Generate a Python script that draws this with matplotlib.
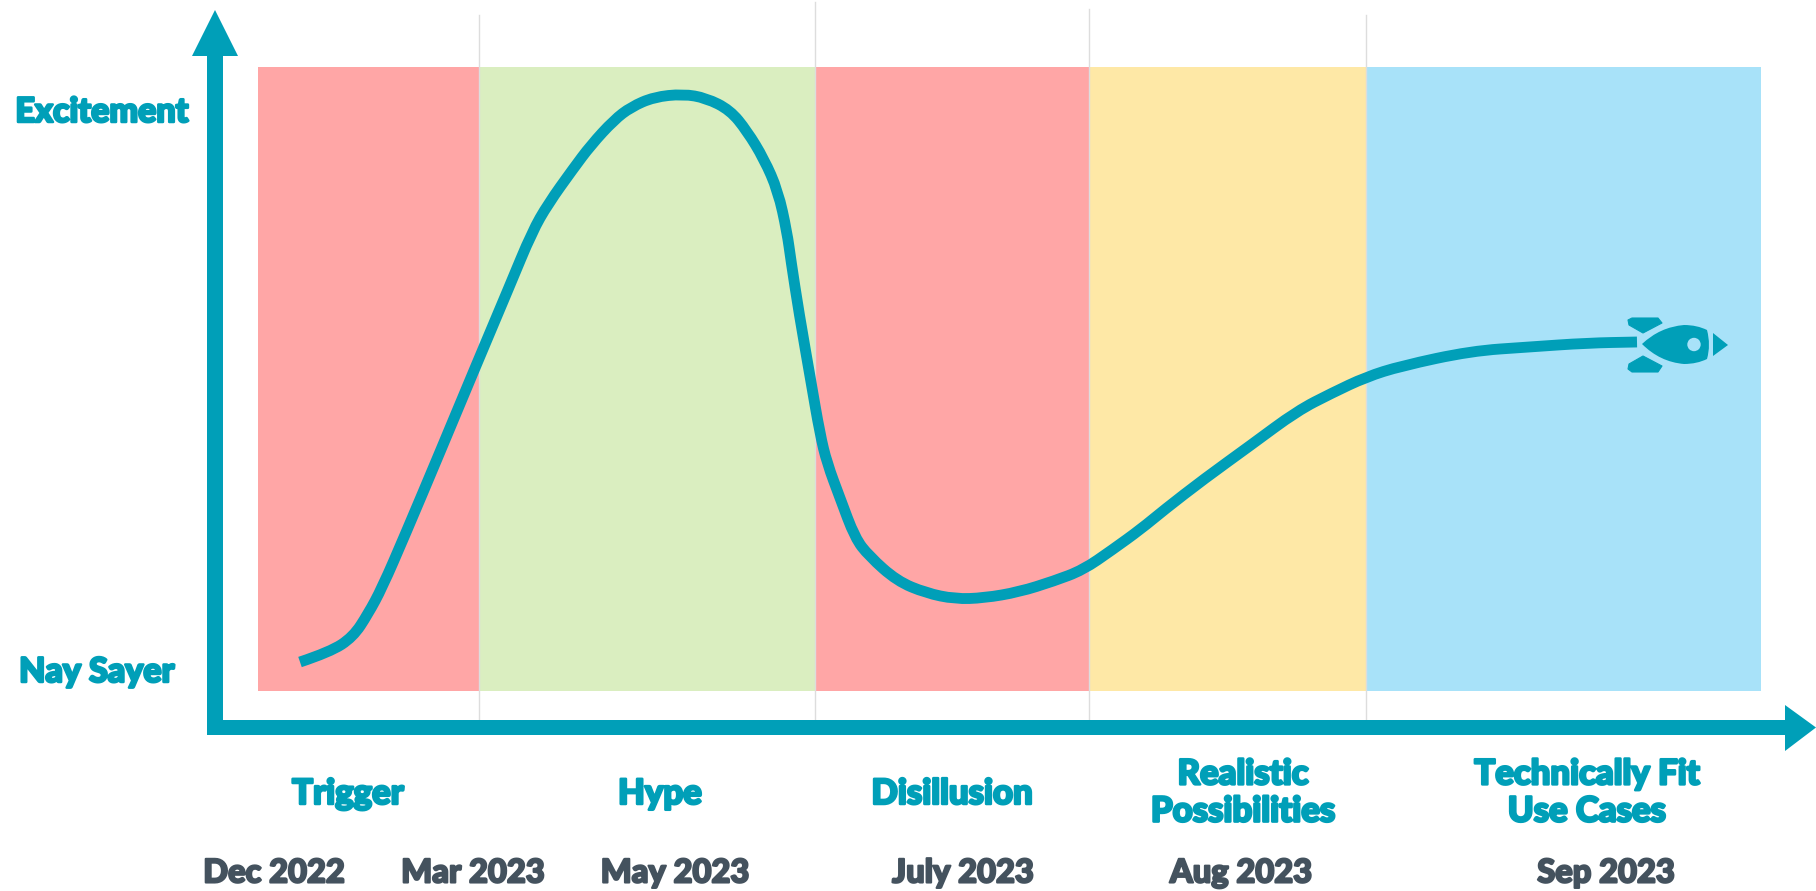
import matplotlib
matplotlib.use("Agg")
import matplotlib.pyplot as plt
import matplotlib.patheffects as pe
from matplotlib.patches import Polygon, Circle, Rectangle, PathPatch
from matplotlib.path import Path

TEAL = "#009FB8"
SLATE = "#44525E"
BG_RULE = "#DDDDDD"
SKY = "#A8E2F9"

# Phase bands: edges along the time axis, one colour per phase
band_edges = [258, 479, 815, 1089, 1366, 1761]
band_colors = ["#FFA6A6", "#DAEEC0", "#FFA6A6", "#FEE8A6", SKY]
rule_tops = [15, 2, 9, 15]

# Sentiment curve
curve_x = [300, 330, 353, 368, 382, 405, 440, 475, 510, 532, 548, 573, 591, 614,
           631, 654, 683, 706, 730, 747, 764, 778, 787, 791, 799, 811, 820, 827,
           840, 855, 869, 897, 926, 955, 984, 1019, 1054, 1083, 1112, 1141, 1164,
           1204, 1251, 1297, 1332, 1366, 1401, 1471, 1529, 1587, 1637]
curve_y = [662, 652, 637, 614, 588, 535, 452, 368, 285, 232, 204, 169, 145, 120,
           107, 97, 94, 98, 110, 131, 159, 191, 232, 261, 313, 382, 434, 463,
           498, 538, 556, 581, 593, 599, 598, 592, 581, 570, 550, 529, 510,
           479, 445, 411, 393, 377, 366, 351, 347, 343, 342]

# Labels
phase_labels = ["Trigger", "Hype", "Disillusion", "Realistic\nPossibilities", "Technically Fit\nUse Cases"]
phase_x = [348, 660, 952, 1243, 1587]
phase_y = [794, 794, 794, 793, 793]
date_labels = ["Dec 2022", "Mar 2023", "May 2023", "July 2023", "Aug 2023", "Sep 2023"]
date_x = [274, 473, 675, 963, 1241, 1606]
y_labels = ["Excitement", "Nay Sayer"]
y_label_x = [102, 97]
y_label_y = [112, 672]


def smooth_path(xs, ys):
    # quadratic segments through the midpoints so the line has no visible corners
    verts = [(xs[0], ys[0])]
    codes = [Path.MOVETO]
    for i in range(1, len(xs) - 1):
        verts += [(xs[i], ys[i]), ((xs[i] + xs[i + 1]) / 2, (ys[i] + ys[i + 1]) / 2)]
        codes += [Path.CURVE3, Path.CURVE3]
    verts.append((xs[-1], ys[-1]))
    codes.append(Path.LINETO)
    return Path(verts, codes)


fig = plt.figure(figsize=(18.16, 8.91), dpi=100)
ax = fig.add_axes([0, 0, 1, 1])
ax.set_xlim(0, 1816)
ax.set_ylim(891, 0)
ax.axis("off")

# bands and the thin rules above them
for i, c in enumerate(band_colors):
    ax.add_patch(Rectangle((band_edges[i], 67), band_edges[i + 1] - band_edges[i], 624,
                           fc=c, ec="none", zorder=1))
for x, top in zip(band_edges[1:5], rule_tops):
    ax.plot([x, x], [top, 727], color=BG_RULE, lw=1.0, zorder=2)

# axes arrows
ax.add_patch(Rectangle((207, 50), 15.5, 685, fc=TEAL, ec="none", zorder=3))
ax.add_patch(Rectangle((207, 720), 1585, 15, fc=TEAL, ec="none", zorder=3))
ax.add_patch(Polygon([(215, 10), (238, 56), (192, 56)], fc=TEAL, ec="none", zorder=3))
ax.add_patch(Polygon([(1785, 705), (1816, 727.5), (1785, 751)], fc=TEAL, ec="none", zorder=3))

ax.add_patch(PathPatch(smooth_path(curve_x, curve_y), fc="none", ec=TEAL, lw=7.8,
                       capstyle="butt", joinstyle="round", zorder=4))

# rocket icon
body = Path([(1642, 344), (1660, 327), (1684, 325), (1697, 325), (1707, 330),
             (1711, 345), (1707, 359), (1697, 364), (1684, 364), (1660, 362), (1642, 344)],
            [Path.MOVETO] + [Path.CURVE3] * 10)
ax.add_patch(PathPatch(body, fc=TEAL, ec="none", zorder=5))
ax.add_patch(Circle((1694, 344.5), 6.7, fc=SKY, ec="none", zorder=6))
ax.add_patch(Polygon([(1713, 333), (1728, 345), (1713, 356)], fc=TEAL, ec="none", zorder=5))
ax.add_patch(Polygon([(1628, 320), (1632, 318), (1658, 318), (1662, 323), (1643, 333), (1629, 325)],
                     fc=TEAL, ec=TEAL, lw=0.8, joinstyle="round", zorder=5))
ax.add_patch(Polygon([(1628, 369), (1632, 372), (1658, 372), (1662, 366), (1643, 356), (1629, 364)],
                     fc=TEAL, ec=TEAL, lw=0.8, joinstyle="round", zorder=5))

# text, thickened with a stroke of the same colour
text_kw = dict(family=["Lato", "DejaVu Sans"], weight="black", ha="center", va="center", zorder=7)
teal_fx = [pe.withStroke(linewidth=1.8, foreground=TEAL)]
slate_fx = [pe.withStroke(linewidth=1.5, foreground=SLATE)]
for s, x, y in zip(y_labels, y_label_x, y_label_y):
    ax.text(x, y, s, color=TEAL, fontsize=24.5, path_effects=teal_fx, **text_kw)
for s, x, y in zip(phase_labels, phase_x, phase_y):
    ax.text(x, y, s, color=TEAL, fontsize=25, linespacing=1.2, path_effects=teal_fx, **text_kw)
for s, x in zip(date_labels, date_x):
    ax.text(x, 873, s, color=SLATE, fontsize=23.5, path_effects=slate_fx, **text_kw)

fig.savefig("out.png", dpi=100)
